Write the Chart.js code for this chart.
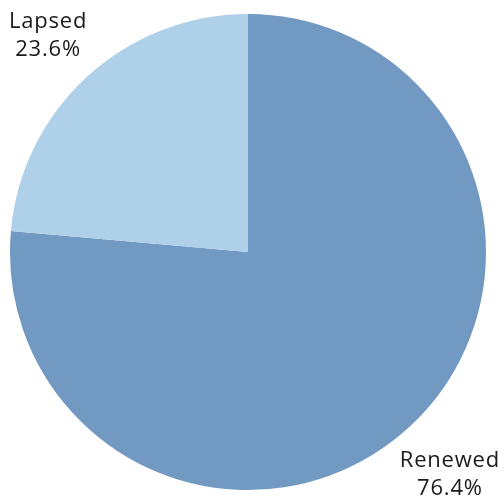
<!DOCTYPE html>
<html lang="en">
<head>
  <meta charset="UTF-8"/>
  <title>Renewed vs Lapsed</title>
  <script src="https://cdn.jsdelivr.net/npm/chart.js"></script>
  <style>
    html, body { margin: 0; padding: 0; background: #fff; }
    #wrap { width: 504px; height: 497px; }
  </style>
</head>
<body>
  <div id="wrap"><canvas id="pieChart" width="504" height="497"></canvas></div>
  <script>
    const categories = ['Renewed', 'Lapsed'];
    const shares = [76.4, 23.6];
    const colors = ['#7199c2', '#aed0e8'];

    // draws "name / pct" outside each slice
    const outsideLabels = {
      id: 'outsideLabels',
      afterDatasetsDraw(chart) {
        const ctx = chart.ctx;
        const arcs = chart.getDatasetMeta(0).data;
        ctx.save();
        ctx.fillStyle = '#1a1a1a';
        ctx.font = '22px "Open Sans", sans-serif';
        ctx.letterSpacing = '0.8px';
        ctx.textAlign = 'center';
        ctx.textBaseline = 'middle';
        arcs.forEach((arc, i) => {
          const mid = (arc.startAngle + arc.endAngle) / 2;
          const r = arc.outerRadius * 1.25;
          const x = arc.x + Math.cos(mid) * r + 1;
          const y = arc.y + Math.sin(mid) * r + 3;
          ctx.fillText(categories[i], x, y - 14);
          ctx.fillText(shares[i].toFixed(1) + '%', x, y + 14);
        });
        ctx.restore();
      }
    };

    new Chart(document.getElementById('pieChart'), {
      type: 'pie',
      data: {
        labels: categories,
        datasets: [{
          data: shares,
          backgroundColor: colors,
          borderWidth: 0
        }]
      },
      options: {
        responsive: false,
        animation: false,
        layout: { padding: { left: 10, right: 18, top: 14, bottom: 7 } },
        plugins: {
          legend: { display: false },
          tooltip: { enabled: false }
        }
      },
      plugins: [outsideLabels]
    });
  </script>
</body>
</html>
